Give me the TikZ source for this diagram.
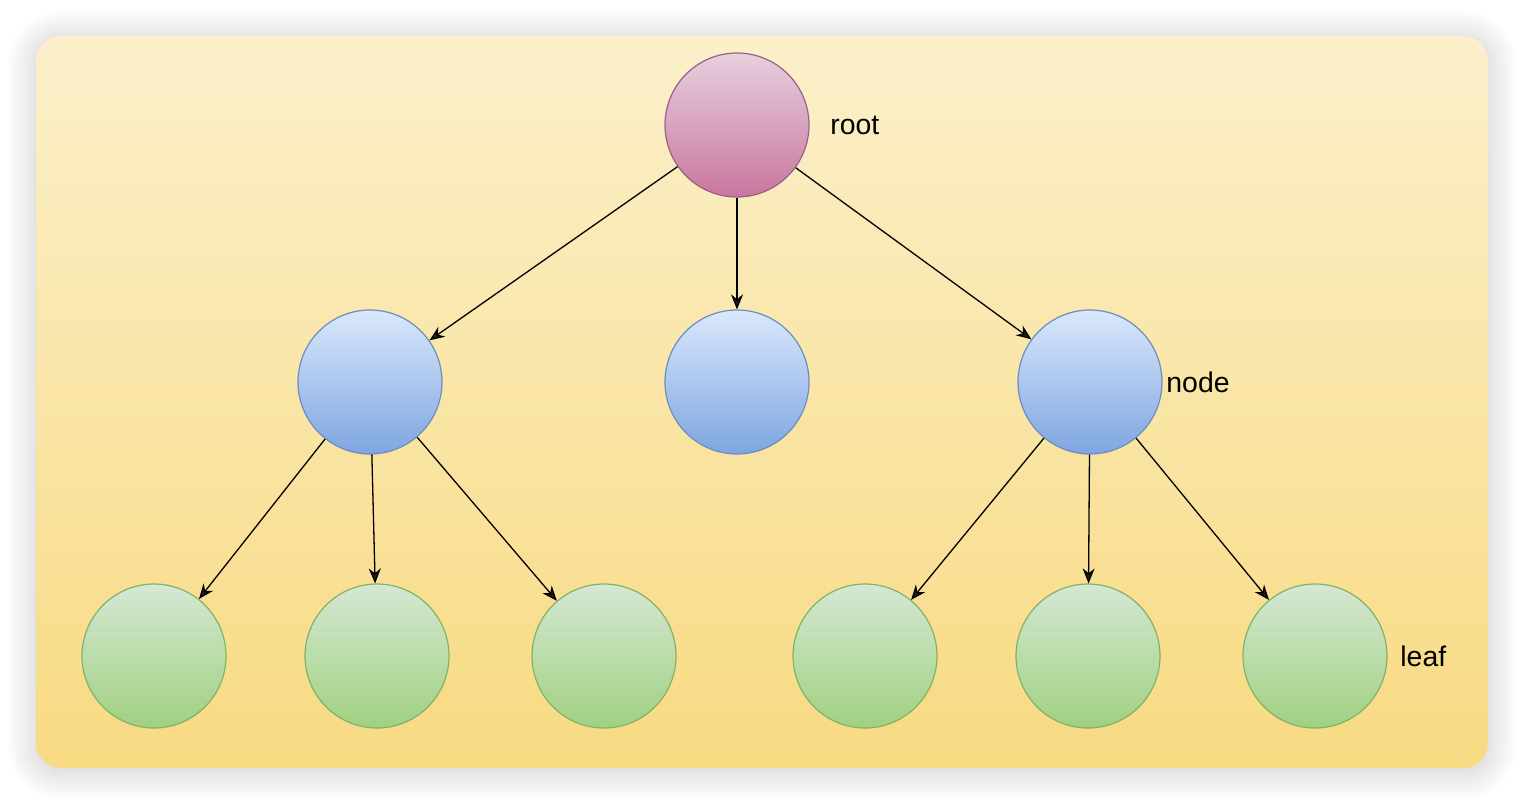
\documentclass[tikz,border=0pt]{standalone}
\usepackage{fontspec}
\setmainfont{Liberation Sans}
\usepackage{tikz}
\usetikzlibrary{arrows.meta,shadows.blur}
\definecolor{PanelTop}{HTML}{FBF0CB}
\definecolor{PanelBottom}{HTML}{F8DA82}
\definecolor{RootTop}{HTML}{E6D0DE}
\definecolor{RootBottom}{HTML}{C9769E}
\definecolor{RootLine}{HTML}{996185}
\definecolor{MidTop}{HTML}{DAE8FC}
\definecolor{MidBottom}{HTML}{7EA6E0}
\definecolor{MidLine}{HTML}{6C8EBF}
\definecolor{LeafTop}{HTML}{D5E8D4}
\definecolor{LeafBottom}{HTML}{A0D080}
\definecolor{LeafLine}{HTML}{82B366}

\begin{document}
\begin{tikzpicture}[x=0.5pt,y=-0.5pt,>={Stealth[length=7.5pt,width=6pt]},
  ball/.style={circle,minimum size=72pt,inner sep=0pt,line width=0.6pt},
  rootball/.style={ball,draw=RootLine,top color=RootTop,bottom color=RootBottom},
  midball/.style={ball,draw=MidLine,top color=MidTop,bottom color=MidBottom},
  leafball/.style={ball,draw=LeafLine,top color=LeafTop,bottom color=LeafBottom},
  tag/.style={anchor=west,inner sep=0pt,font=\fontsize{14.2}{17}\selectfont},
  edge/.style={->,line width=0.65pt}]
  \useasboundingbox (0,0) rectangle (1524,804);
  % panel
  \path[rounded corners=12.5pt,top color=PanelTop,bottom color=PanelBottom,
    blur shadow={shadow xshift=0pt,shadow yshift=-1.5pt,shadow blur radius=15pt,
      shadow blur steps=30,shadow opacity=22}]
    (36,36) rectangle (1488,768);
  % levels
  \node[rootball] (root) at (737,125) {};
  \node[midball] (midL) at (370,382) {};
  \node[midball] (midC) at (737,382) {};
  \node[midball] (midR) at (1090,382) {};
  \foreach \n/\x in {1/154,2/377,3/604,4/865,5/1088,6/1315}{
    \node[leafball] (leaf\n) at (\x,656) {};
  }
  % labels
  \node[tag] (roottag) at (830,125) {root};
  \node[tag] (nodetag) at (1166,382) {node};
  \node[tag] (leaftag) at (1400,656) {leaf};
  % edges
  \foreach \m in {midL,midC,midR}{
    \draw[edge] (root) -- (\m);
  }
  \foreach \n in {1,2,3}{
    \draw[edge] (midL) -- (leaf\n);
  }
  \foreach \n in {4,5,6}{
    \draw[edge] (midR) -- (leaf\n);
  }
\end{tikzpicture}
\end{document}
